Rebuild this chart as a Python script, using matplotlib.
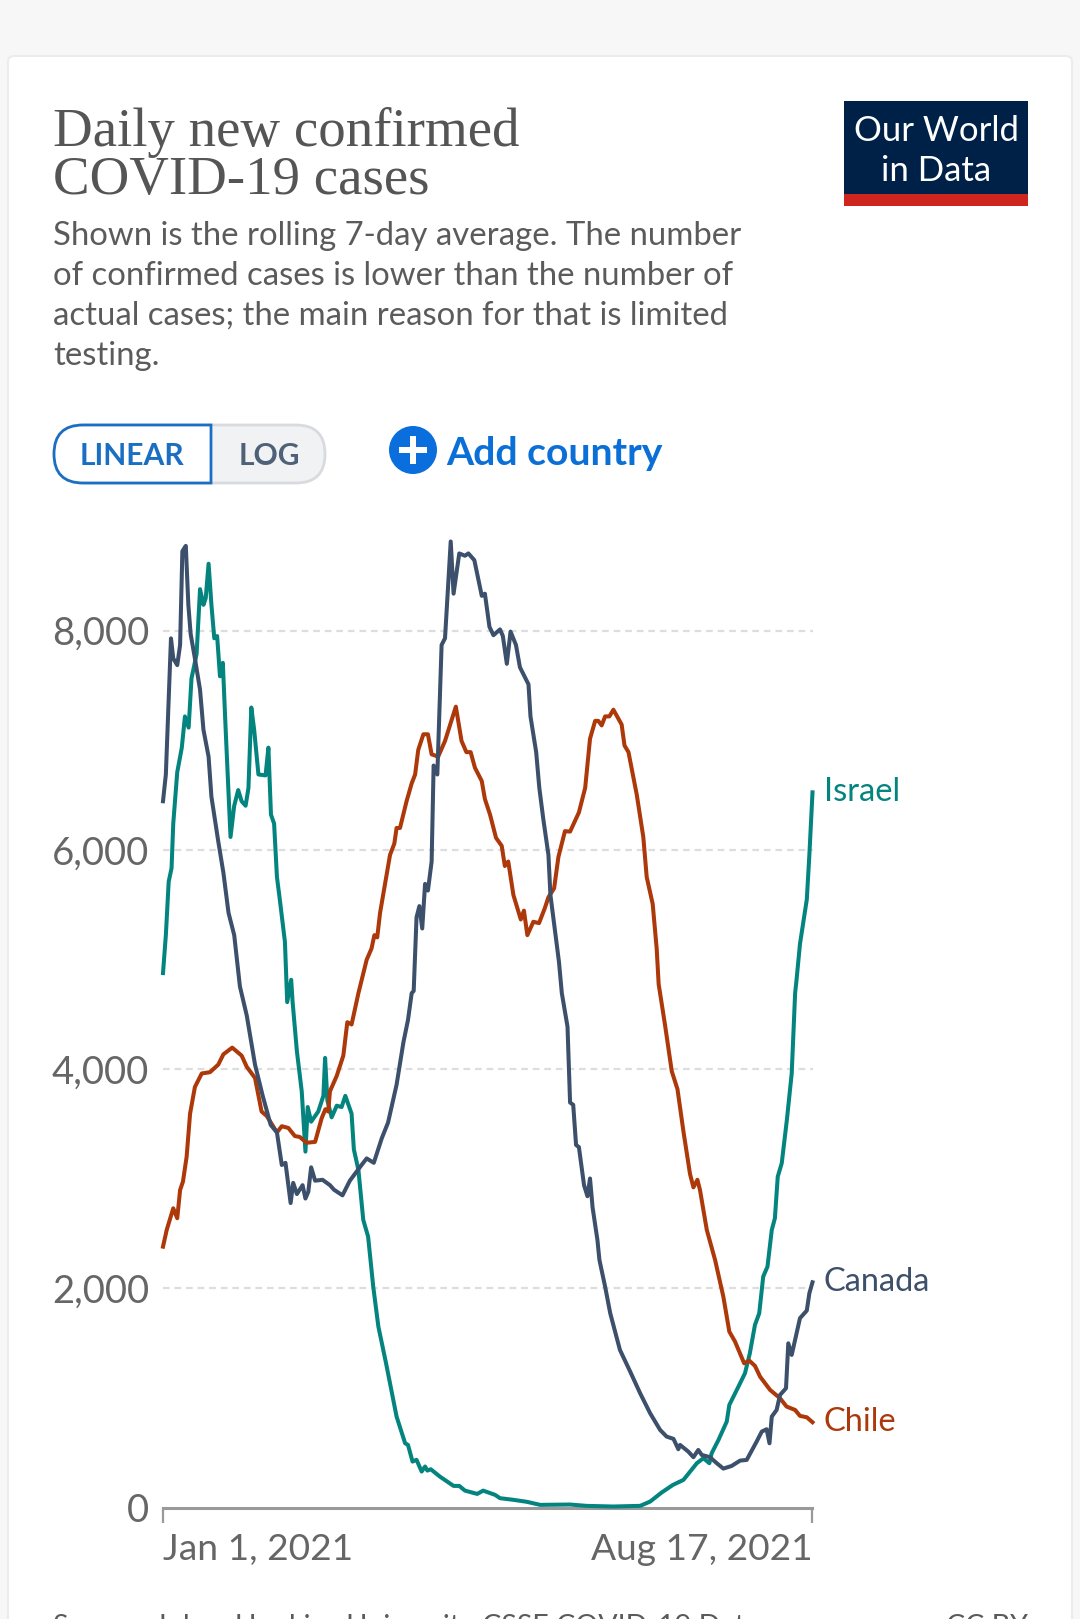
import matplotlib
matplotlib.use("Agg")
import matplotlib.pyplot as plt
from matplotlib.patches import Rectangle, FancyBboxPatch, Circle, PathPatch
from matplotlib.path import Path

title_lines = ["Daily new confirmed", "COVID-19 cases"]
subtitle_lines = ["Shown is the rolling 7-day average. The number",
                  "of confirmed cases is lower than the number of",
                  "actual cases; the main reason for that is limited",
                  "testing."]
y_ticks = [0, 2000, 4000, 6000, 8000]
y_tick_labels = ["0", "2,000", "4,000", "6,000", "8,000"]
x_tick_labels = ["Jan 1, 2021", "Aug 17, 2021"]

canada_days = [0,1,2,2.8,3.6,5,6,6.8,8,8.9,9.7,11.2,13,14.2,16,17,19.4,21.2,23,25,27,29.4,32.3,35,37.8,40,41.7,43,44.8,45.7,47,49,50,51,52,53.4,56,58.6,60,63,65.6,69.7,71.5,74,76.8,79,82,84.4,86,87.3,88,89,90,91,92,93,94.3,95,96.3,97.8,99,101,102,104,106,107.2,109.3,111.9,113,114.6,116,118.3,119.3,120.7,122,123.9,125.3,128.3,129,131,132.1,133.5,135.3,136,137.6,139,140,142,142.9,144,145,146,147.8,149,149.9,150.8,152.5,153.2,155.2,157,160.4,164,167.5,171,174.5,176.8,179.2,180.9,181.5,184.4,186.2,187.9,189.1,192,194.4,196.7,199.6,202.6,204.9,208.4,210.2,211.9,212.9,213.7,215.4,216.6,218.7,219.5,220.7,221.9,223.6,226,226.9,228]
canada_vals = [6444,6688,7380,7930,7747,7686,7870,8725,8774,8236,7971,7747,7462,7096,6851,6485,6077,5792,5426,5222,4754,4489,4041,3756,3491,3422,3125,3145,2778,2962,2860,2941,2819,2880,3104,2982,2990,2941,2900,2848,2982,3125,3185,3145,3369,3512,3858,4245,4448,4693,4713,5385,5487,5283,5690,5629,5894,6770,6688,7870,7931,8814,8338,8705,8684,8705,8643,8318,8338,8035,7959,8012,7951,7698,7992,7870,7666,7511,7218,6892,6566,6281,5955,5589,5263,4978,4693,4387,3695,3674,3308,3288,2941,2840,3002,2738,2441,2259,2015,1772,1438,1240,1042,860,708,647,626,532,571,510,459,525,480,459,404,355,379,428,434,602,693,714,586,829,890,1027,1088,1498,1392,1529,1727,1797,1955,2055]

israel_days = [0,1,2,3,3.6,5,6.6,7.7,9,10,11.8,13,14.2,15,16,17,18,19,20,21,22,23.7,25,26.4,27.6,29,30,31,32,33.5,36,37,37.9,39,40,41,42.8,43.6,45,45.5,47,48.7,50,50.8,52,54.5,56.3,56.9,57.7,59.2,61,62.7,64,66.2,67,68.6,70.3,72,73.8,75.6,78.3,82,85,86,87.6,89,90.8,92,92.8,94,97.2,102,104,106,110.3,112.4,116.6,118.3,123,127.7,132.4,142.9,148.7,158,167.5,171,175,179,182.7,187.4,189.7,191.8,192.6,195,197.9,198.8,202,204.3,206,207.8,209.3,210.7,212.2,213.7,214.8,215.8,217.2,219,220.7,221.9,222.4,223.6,226,226.9,228]
israel_vals = [4876,5222,5711,5833,6240,6709,6933,7218,7116,7564,7788,8379,8236,8297,8611,8236,7931,7951,7584,7707,7096,6118,6403,6546,6444,6403,6566,7299,7096,6688,6680,6933,6322,6240,5752,5548,5161,4611,4815,4611,4163,3797,3247,3654,3520,3613,3756,4102,3715,3560,3666,3654,3756,3593,3267,3080,2624,2472,2015,1651,1316,829,586,571,419,435,328,374,337,349,282,197,197,154,124,154,115,85,70,52,24,27,15,9,15,54,136,206,252,404,450,404,495,617,784,936,1103,1225,1407,1666,1772,2107,2198,2532,2639,3019,3141,3536,3960,4693,4815,5141,5548,5955,6525]

chile_days = [0,1.3,3.6,5,6,7,8.3,9.5,11.2,13.6,16.5,19.4,21.2,24.3,27.6,29.4,32.3,34.6,36.4,40,41.7,44,46.3,48,50.4,53.4,55.7,57,58,58.6,61,63.3,64.7,66.2,68.6,71.5,73.2,74.2,75.2,76.2,79.7,81.2,82,83.2,85.5,87.3,88.5,89.6,91.4,93,94.3,96.6,99,102.8,104.8,106.5,108,109.5,111.9,113,114.8,116.9,118.9,120,121.2,123,125.6,126.7,127.9,130,132,134,135.3,137.3,138.8,141.1,142.9,146,148.2,149.9,151.7,152.8,154,155.2,156.7,158.1,161,162,163.4,166.3,168.6,169.8,171.9,173.3,174,176.2,178.6,180.6,182.7,185,186.2,187.6,188.5,190.9,193.8,196.7,198.8,200.8,204,205.8,207.8,209.6,213.1,216.6,218.9,221.9,223.6,226,228]
chile_vals = [2380,2532,2730,2639,2897,2973,3201,3593,3837,3960,3972,4041,4135,4196,4123,4021,3919,3613,3573,3422,3479,3463,3389,3381,3328,3336,3552,3634,3613,3797,3939,4123,4428,4407,4693,4998,5100,5222,5202,5426,5955,6057,6200,6200,6444,6607,6688,6912,7055,7055,6872,6851,6994,7307,6994,6892,6892,6750,6628,6464,6322,6110,6037,5853,5894,5589,5365,5446,5222,5344,5332,5466,5568,5650,5935,6171,6167,6342,6566,7014,7177,7177,7136,7218,7218,7279,7144,6953,6892,6505,6118,5752,5507,5100,4774,4408,3980,3817,3430,3043,2921,2990,2897,2532,2259,1924,1605,1514,1316,1340,1292,1194,1073,997,921,890,836,823,778]

COL_ISRAEL = "#04847e"
COL_CANADA = "#3c4f6b"
COL_CHILE = "#ad380a"
BODY = "Lato"
W, H = 1080, 1619

plt.rcParams['font.family'] = [BODY, 'DejaVu Sans']
fig = plt.figure(figsize=(W/100, H/100), dpi=100, facecolor="#f7f7f8")

# page chrome in pixel coordinates
bg = fig.add_axes([0, 0, 1, 1])
bg.set_xlim(0, W); bg.set_ylim(H, 0); bg.axis("off")
bg.add_patch(FancyBboxPatch((8, 56), 1064, 1700, boxstyle="round,pad=0,rounding_size=6",
                            fc="white", ec="#ececec", lw=1.5))

for line, y in zip(title_lines, [132, 181]):
    bg.text(53, y, line, family="Liberation Serif", fontsize=39.5, color="#555555", va="center", ha="left")
for line, y in zip(subtitle_lines, [236, 276, 316, 356]):
    bg.text(53, y, line, fontsize=23.7, color="#5b5b5b", va="center", ha="left")

bg.add_patch(Rectangle((844, 101), 184, 93, fc="#002147", ec="none"))
bg.add_patch(Rectangle((844, 194), 184, 12, fc="#ce261e", ec="none"))
bg.text(936, 131, "Our World", fontsize=25, color="white", ha="center", va="center")
bg.text(936, 171, "in Data", fontsize=25, color="white", ha="center", va="center")

# linear / log toggle
bg.add_patch(FancyBboxPatch((54, 425), 271, 58, boxstyle="round,pad=0,rounding_size=29",
                            fc="#f1f2f4", ec="#d8dadf", lw=2))
x0, x1, y0, y1, r = 54, 211, 425, 483, 29
verts = [(x1, y0), (x0+r, y0), (x0, y0), (x0, y0+r), (x0, y1), (x0+r, y1), (x1, y1), (x1, y0)]
codes = [Path.MOVETO, Path.LINETO, Path.CURVE3, Path.CURVE3, Path.CURVE3, Path.CURVE3, Path.LINETO, Path.CLOSEPOLY]
bg.add_patch(PathPatch(Path(verts, codes), fc="white", ec="#1a6fc2", lw=2))
bg.text(132, 456, "LINEAR", fontsize=21.6, fontweight="bold", color="#1a6fc2", ha="center", va="center")
bg.text(269, 456, "LOG", fontsize=21.6, fontweight="bold", color="#4f6079", ha="center", va="center")
bg.add_patch(Circle((413, 450), 24, fc="#0a6fdc", ec="none"))
bg.add_patch(Rectangle((399, 447), 28, 6, fc="white", ec="none"))
bg.add_patch(Rectangle((410, 436), 6, 28, fc="white", ec="none"))
bg.text(446, 453, "Add country", fontsize=28.2, fontweight="bold", color="#0a6fd6", ha="left", va="center")

bg.text(53, 1627, "Source: Johns Hopkins University CSSE COVID-19 Data", fontsize=20.6, color="#5b5b5b", ha="left", va="center")
bg.text(1028, 1627, "CC BY", fontsize=20.6, color="#5b5b5b", ha="right", va="center")

# chart
PX_PER_UNIT = 0.1096
top, bottom, left, right = 530, 1507.5, 163, 812.5
ax = fig.add_axes([left/W, 1-bottom/H, (right-left)/W, (bottom-top)/H])
ax.patch.set_alpha(0)
ax.set_xlim(0, 228)
ax.set_ylim(0, (bottom-top)/PX_PER_UNIT)
for s in ax.spines.values():
    s.set_visible(False)

for v in y_ticks[1:]:
    ax.axhline(v, color="#dddddd", lw=1.6, dashes=(3, 2.2), zorder=1)
ax.spines["bottom"].set_visible(True)
ax.spines["bottom"].set_color("#999999")
ax.spines["bottom"].set_linewidth(2.2)
ax.set_yticks(y_ticks, y_tick_labels, fontsize=27.5, color="#666666")
ax.tick_params(axis="y", length=0, pad=10)
ax.set_xticks([0, 228], x_tick_labels, fontsize=26.7, color="#666666")
ax.tick_params(axis="x", length=10.5, width=1.6, color="#999999", pad=8)
labs = ax.get_xticklabels()
labs[0].set_ha("left"); labs[1].set_ha("right")

series = [("Israel", israel_days, israel_vals, COL_ISRAEL),
          ("Chile", chile_days, chile_vals, COL_CHILE),
          ("Canada", canada_days, canada_vals, COL_CANADA)]
for name, d, v, c in series:
    ax.plot(d, v, color=c, lw=2.9, solid_joinstyle="round", clip_on=False, zorder=3)
    ax.annotate(name, (d[-1], v[-1]), xytext=(8, 0), textcoords="offset points", fontsize=23.5, color=c,
                va="center", ha="left", annotation_clip=False)

fig.savefig("out.png", dpi=100, facecolor=fig.get_facecolor())
